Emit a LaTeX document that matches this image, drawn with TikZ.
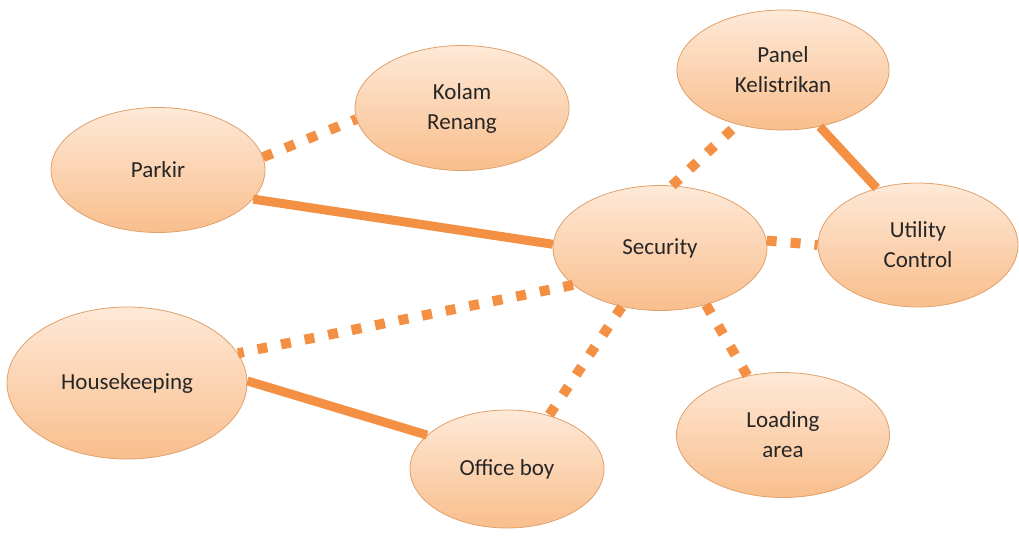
\documentclass[tikz,border=0pt]{standalone}
\usepackage{fontspec}
\setmainfont{Carlito}
\usepackage{tikz}
\usetikzlibrary{positioning, shapes.geometric}

\definecolor{bubbletop}{HTML}{FEE9D8}
\definecolor{bubblebottom}{HTML}{F9BE8C}
\definecolor{bubbleline}{HTML}{E0A06A}
\definecolor{linkorange}{HTML}{F39044}
\definecolor{labeltext}{HTML}{262626}

\begin{document}
\begin{tikzpicture}[x=1pt, y=-1pt,
        bubble/.style = {ellipse, draw = bubbleline, line width = 0.8pt, top color = bubbletop, bottom color = bubblebottom,
            minimum width = 214pt, minimum height = 125pt, inner sep = 0pt, align = center, text = labeltext,
            font = \fontsize{23}{30}\selectfont},
        link/.style = {draw = linkorange, line width = 9pt},
        dotlink/.style = {draw = linkorange, line width = 10pt, dash pattern = on 10pt off 14pt}]
        \useasboundingbox (0, 0) rectangle (1019, 535);

        \node[bubble] (parkir) at (158, 170) {Parkir};
        \node[bubble] (kolam) at (462, 108) {Kolam\\Renang};
        \node[bubble, minimum height = 120pt, minimum width = 212pt] (panel) at (783, 70) {Panel\\Kelistrikan};
        \node[bubble] (security) at (660, 248) {Security};
        \node[bubble, minimum width = 200pt, minimum height = 124pt] (utility) at (918, 245) {Utility\\Control};
        \node[bubble, minimum width = 240pt, minimum height = 152pt] (housekeeping) at (127, 383) {Housekeeping};
        \node[bubble, minimum width = 194pt, minimum height = 118pt] (officeboy) at (507, 469) {Office boy};
        \node[bubble, minimum width = 213pt] (loading) at (783, 435) {Loading\\area};

        \draw (parkir.7) edge[dotlink] (kolam.186);
        \draw (parkir.343) edge[link] (security.178);
        \draw (security.79) edge[dotlink] (panel.230);
        \draw (panel.303) edge[link] (utility.126);
        \draw (security.4) edge[dotlink] (utility.180);
        \draw (security.203) edge[dotlink] (housekeeping.15);
        \draw (security.237) edge[dotlink] (officeboy.52);
        \draw (security.309) edge[dotlink] (loading.121);
        \draw (housekeeping.1) edge[link] (officeboy.157);
      \end{tikzpicture}
\end{document}
